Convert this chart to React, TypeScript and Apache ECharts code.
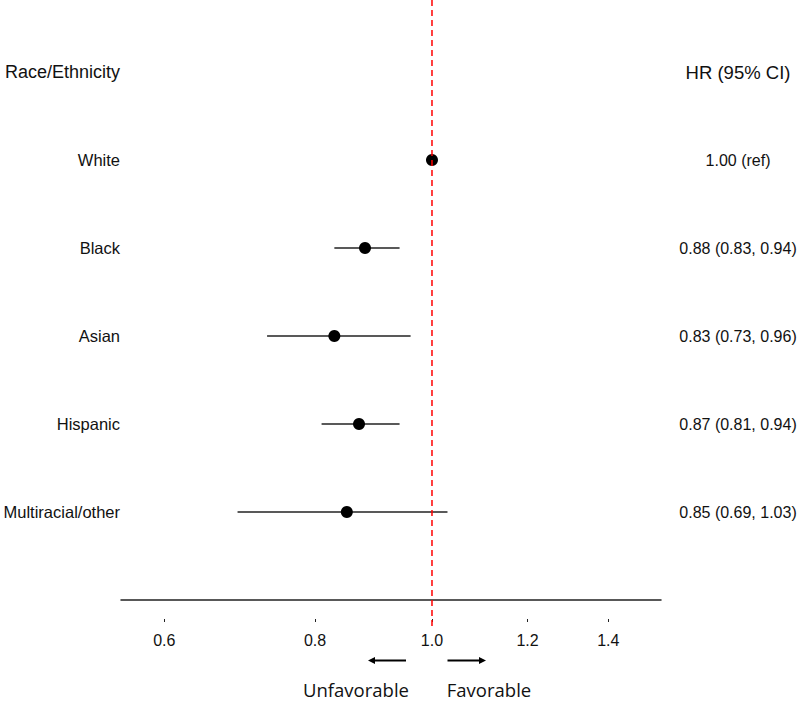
import React, { useEffect, useRef } from "react";
import * as echarts from "echarts";

const categories = ["White", "Black", "Asian", "Hispanic", "Multiracial/other"];
const hr = [1.0, 0.88, 0.83, 0.87, 0.85];
const lower: (number | null)[] = [null, 0.83, 0.73, 0.81, 0.69];
const upper: (number | null)[] = [null, 0.94, 0.96, 0.94, 1.03];
const hrText = [
  "1.00 (ref)",
  "0.88 (0.83, 0.94)",
  "0.83 (0.73, 0.96)",
  "0.87 (0.81, 0.94)",
  "0.85 (0.69, 1.03)",
];
const leftHeader = "Race/Ethnicity";
const rightHeader = "HR (95% CI)";
const tickValues = [0.6, 0.8, 1.0, 1.2, 1.4];
const xRange = [0.5524, 1.5481];
const refValue = 1.0;

const FONT = "'Liberation Sans', Arial, Helvetica, sans-serif";

export default function App() {
  const ref = useRef<HTMLDivElement>(null);
  useEffect(() => {
    if (!ref.current) return;
    const chart = echarts.init(ref.current, null, { renderer: "svg" });
    const ln = Math.log;
    const rows = categories.map((_, i) => i + 1);
    const yMin = -9 / 11;
    const yMax = 6;
    const labelRows = [0, ...rows];

    const ciData = categories
      .map((_, i) =>
        lower[i] != null && upper[i] != null
          ? [ln(lower[i] as number), ln(upper[i] as number), rows[i]]
          : null
      )
      .filter((d) => d !== null);

    const option: any = {
      animation: false,
      textStyle: { fontFamily: FONT },
      grid: { left: 121, right: 139, top: 0, bottom: 101, containLabel: false },
      xAxis: [
        {
          type: "value",
          min: ln(xRange[0]),
          max: ln(xRange[1]),
          position: "bottom",
          axisLine: { show: true, onZero: false, lineStyle: { color: "#222", width: 1.5 } },
          axisTick: { show: false },
          axisLabel: {
            show: true,
            customValues: tickValues.map((t) => ln(t)),
            formatter: (v: number) => Math.exp(v).toFixed(1),
            fontFamily: FONT,
            fontSize: 16,
            color: "#111",
            margin: 32,
          },
          splitLine: { show: false },
        },
        {
          type: "value",
          min: ln(xRange[0]),
          max: ln(xRange[1]),
          position: "bottom",
          offset: 19,
          axisLine: { show: false, onZero: false },
          axisTick: {
            show: true,
            length: 3,
            customValues: tickValues.map((t) => ln(t)),
            lineStyle: { color: "#222", width: 1 },
          },
          axisLabel: { show: false },
          splitLine: { show: false },
        },
      ],
      yAxis: [
        {
          type: "value",
          inverse: true,
          min: yMin,
          max: yMax,
          position: "left",
          axisLine: { show: false, onZero: false },
          axisTick: { show: false },
          splitLine: { show: false },
          axisLabel: {
            show: true,
            customValues: labelRows,
            margin: 1,
            fontFamily: FONT,
            fontSize: 16.5,
            color: "#111",
            formatter: (v: number) => {
              const i = Math.round(v);
              if (i === 0) return "{h|" + leftHeader + "}";
              return categories[i - 1] ?? "";
            },
            rich: { h: { fontFamily: FONT, fontSize: 18, color: "#111" } },
          },
        },
        {
          type: "value",
          inverse: true,
          min: yMin,
          max: yMax,
          position: "right",
          axisLine: { show: false, onZero: false },
          axisTick: { show: false },
          splitLine: { show: false },
          axisLabel: {
            show: true,
            customValues: labelRows,
            margin: 77,
            align: "center",
            fontFamily: FONT,
            fontSize: 16,
            color: "#111",
            formatter: (v: number) => {
              const i = Math.round(v);
              if (i === 0) return "{h|" + rightHeader + "}";
              return hrText[i - 1] ?? "";
            },
            rich: { h: { fontFamily: FONT, fontSize: 18.5, color: "#111" } },
          },
        },
      ],
      series: [
        {
          type: "custom",
          name: "CI",
          xAxisIndex: 0,
          yAxisIndex: 0,
          data: ciData,
          encode: { x: [0, 1], y: 2 },
          z: 2,
          renderItem: (params: any, api: any) => {
            const a = api.coord([api.value(0), api.value(2)]);
            const b = api.coord([api.value(1), api.value(2)]);
            return {
              type: "line",
              shape: { x1: a[0], y1: a[1], x2: b[0], y2: b[1] },
              style: { stroke: "#222", lineWidth: 1.5 },
            };
          },
        },
        {
          type: "scatter",
          name: "HR",
          xAxisIndex: 0,
          yAxisIndex: 0,
          symbol: "circle",
          symbolSize: 12,
          itemStyle: { color: "#000", opacity: 1 },
          z: 3,
          data: hr.map((v, i) => [ln(v), rows[i]]),
        },
        {
          type: "line",
          name: "ref",
          xAxisIndex: 0,
          yAxisIndex: 0,
          clip: false,
          symbol: "none",
          z: 5,
          lineStyle: { color: "#ff0000", width: 1.5, type: [6, 4] },
          data: [
            [ln(refValue), yMin],
            [ln(refValue), 6.34],
          ],
        },
      ],
      graphic: [
        {
          type: "line",
          shape: { x1: 406, y1: 660.5, x2: 374, y2: 660.5 },
          style: { stroke: "#000", lineWidth: 2 },
        },
        {
          type: "polygon",
          shape: { points: [[368, 660.5], [375, 657], [375, 664]] },
          style: { fill: "#000" },
        },
        {
          type: "line",
          shape: { x1: 447.5, y1: 660.5, x2: 480, y2: 660.5 },
          style: { stroke: "#000", lineWidth: 2 },
        },
        {
          type: "polygon",
          shape: { points: [[486, 660.5], [479, 657], [479, 664]] },
          style: { fill: "#000" },
        },
        {
          type: "text",
          x: 356,
          y: 689,
          style: {
            text: "Unfavorable",
            fontFamily: "'Open Sans', 'Noto Sans', sans-serif",
            fontSize: 18.5,
            fill: "#111",
            textAlign: "center",
            textVerticalAlign: "middle",
          },
        },
        {
          type: "text",
          x: 489,
          y: 689,
          style: {
            text: "Favorable",
            fontFamily: "'Open Sans', 'Noto Sans', sans-serif",
            fontSize: 18.5,
            fill: "#111",
            textAlign: "center",
            textVerticalAlign: "middle",
          },
        },
      ],
    };
    chart.setOption(option);
    return () => chart.dispose();
  }, []);
  return (
    <div
      ref={ref}
      style={{ position: "fixed", left: 0, top: 0, width: 800, height: 701, background: "#fff" }}
    />
  );
}
